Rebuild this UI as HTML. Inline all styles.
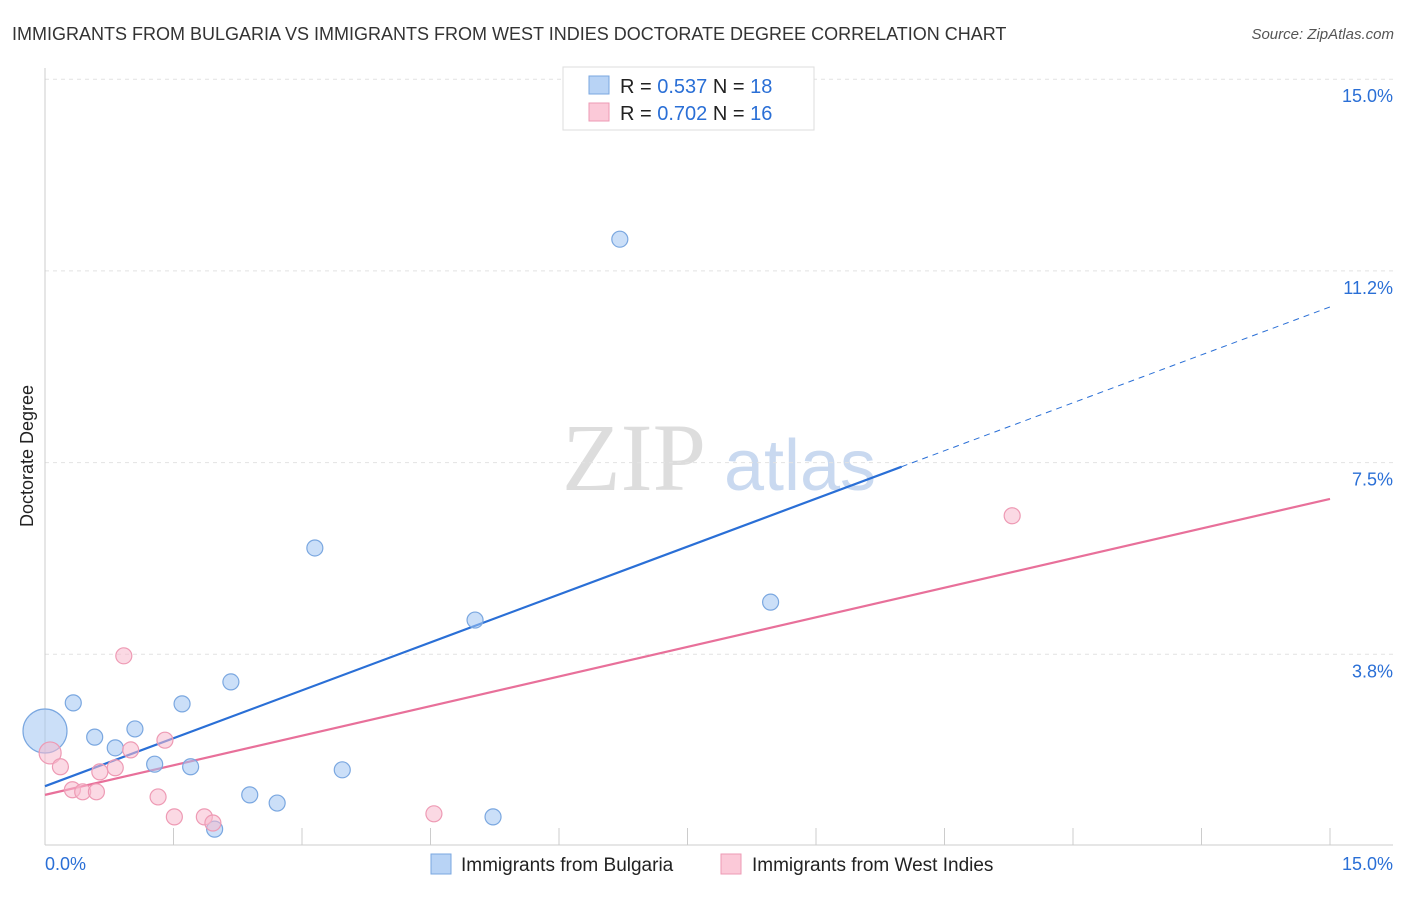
<!DOCTYPE html>
<html><head><meta charset="utf-8"><style>
body{margin:0;background:#fff;font-family:"Liberation Sans",sans-serif;}
</style></head><body>
<svg width="1406" height="892" xmlns="http://www.w3.org/2000/svg" id="svg" font-family="Liberation Sans, sans-serif">
<text x="12" y="40" font-size="18" fill="#333">IMMIGRANTS FROM BULGARIA VS IMMIGRANTS FROM WEST INDIES DOCTORATE DEGREE CORRELATION CHART</text>
<text x="1394" y="39" font-size="15" fill="#555" text-anchor="end" font-style="italic">Source: ZipAtlas.com</text>
<text x="33" y="456" font-size="18" fill="#222" text-anchor="middle" transform="rotate(-90 33 456)">Doctorate Degree</text>
<g><text x="634" y="490" font-size="96" fill="#ddd" font-family="Liberation Serif, serif" text-anchor="middle">ZIP</text><text x="800" y="490" font-size="72" fill="#c9d9f0" text-anchor="middle">atlas</text></g>
<g id="grid"></g><g id="lines"></g><g id="pts"></g>
<g>
<rect x="563" y="67" width="251" height="63" fill="#fff" stroke="#ddd"/>
<rect x="589" y="76" width="20" height="18" fill="#b8d3f5" stroke="#7aa7e0"/>
<rect x="589" y="103" width="20" height="18" fill="#fbc9d8" stroke="#ee9ab4"/>
<text x="620" y="93" font-size="20" fill="#222">R = <tspan fill="#2a6fd6">0.537</tspan>   N = <tspan fill="#2a6fd6">18</tspan></text>
<text x="620" y="120" font-size="20" fill="#222">R = <tspan fill="#2a6fd6">0.702</tspan>   N = <tspan fill="#2a6fd6">16</tspan></text>
</g>
<g>
<rect x="431" y="854" width="20" height="20" fill="#b8d3f5" stroke="#7aa7e0"/>
<text x="461" y="871" font-size="19" fill="#222">Immigrants from Bulgaria</text>
<rect x="721" y="854" width="20" height="20" fill="#fbc9d8" stroke="#ee9ab4"/>
<text x="752" y="871" font-size="19" fill="#222">Immigrants from West Indies</text>
</g>
<text x="45" y="870" font-size="18" fill="#2a6fd6">0.0%</text>
<text x="1393" y="870" font-size="18" fill="#2a6fd6" text-anchor="end">15.0%</text>
</svg>
<script>
const blueX=[0,0.33,0.58,0.82,1.05,1.28,1.6,1.7,2.17,2.39,2.71,3.15,3.47,1.98,5.02,5.23,6.71,8.47];
const blueY=[2.25,2.8,2.13,1.92,2.29,1.6,2.78,1.55,3.21,1.0,0.84,5.83,1.49,0.33,4.42,0.57,11.87,4.77];
const pinkX=[0.06,0.18,0.32,0.44,0.6,0.64,0.82,0.92,1.0,1.4,1.32,1.51,1.86,1.96,4.54,11.29];
const pinkY=[1.82,1.55,1.1,1.06,1.06,1.45,1.53,3.72,1.88,2.07,0.96,0.57,0.57,0.45,0.63,6.46];
const yTicks=[3.8,7.5,11.2,15.0];
const yTickLabels=["3.8%","7.5%","11.2%","15.0%"];
const blueFit=[1.17,0.625];
const pinkFit=[1.0,0.386];
const NS="http://www.w3.org/2000/svg";
const sx=v=>45+v/15*1285, sy=v=>846-v*51.12;
function mk(t,a,p){const e=document.createElementNS(NS,t);for(const k in a)e.setAttribute(k,a[k]);document.getElementById(p).appendChild(e);return e;}
const yt=[3.75,7.5,11.25,15];
yTicks.forEach((t,i)=>{const y=sy(yt[i]);
const l=mk('line',{x1:45,x2:1393,y1:y,y2:y,stroke:'#e2e2e2','stroke-dasharray':'4,4'},'grid');


const tx=mk('text',{x:1393,y:y+23,'font-size':18,fill:'#2a6fd6','text-anchor':'end'},'grid');tx.textContent=yTickLabels[i];

});
const ax=mk('line',{x1:45,x2:1393,y1:845,y2:845,stroke:'#ccc'},'grid');


const ay=mk('line',{x1:45,x2:45,y1:68,y2:845,stroke:'#ccc'},'grid');


for(let i=1;i<=10;i++){const x=sx(i*1.5);const t=mk('line',{x1:x,x2:x,y1:828,y2:845,stroke:'#ccc'},'grid');

}
let b1=mk('line',{x1:sx(0),y1:sy(blueFit[0]),x2:sx(10),y2:sy(blueFit[0]+blueFit[1]*10),stroke:'#2a6fd6','stroke-width':2.2},'lines');


let b2=mk('line',{x1:sx(10),y1:sy(blueFit[0]+blueFit[1]*10),x2:sx(15),y2:sy(blueFit[0]+blueFit[1]*15),stroke:'#2a6fd6','stroke-width':1,'stroke-dasharray':'6,5'},'lines');


let p1=mk('line',{x1:sx(0),y1:sy(pinkFit[0]),x2:sx(15),y2:sy(pinkFit[0]+pinkFit[1]*15),stroke:'#e8709a','stroke-width':2.2},'lines');


blueX.forEach((v,i)=>{const c=mk('circle',{cx:sx(v),cy:sy(blueY[i]),r:i==0?22:8,fill:'rgba(160,196,242,0.55)',stroke:'#7aa7e0','stroke-width':1.2},'pts');

});
pinkX.forEach((v,i)=>{const c=mk('circle',{cx:sx(v),cy:sy(pinkY[i]),r:i==0?11:8,fill:'rgba(248,186,206,0.55)',stroke:'#ee9ab4','stroke-width':1.2},'pts');

});
</script>
</body></html>
